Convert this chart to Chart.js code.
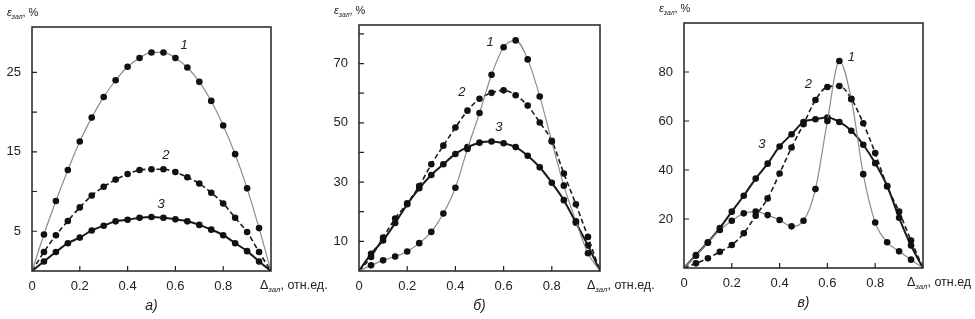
<!DOCTYPE html>
<html>
<head>
<meta charset="utf-8">
<script src="https://cdn.jsdelivr.net/npm/chart.js@4/dist/chart.umd.min.js"></script>
<style>
  body { margin: 0; background: #fff; }
  .panel { position: absolute; top: 0; width: 340px; height: 319px; }
</style>
</head>
<body>
<div class="panel" style="left:0px"><canvas id="chart-a" width="340" height="319"></canvas></div>
<div class="panel" style="left:325px"><canvas id="chart-b" width="340" height="319"></canvas></div>
<div class="panel" style="left:635px"><canvas id="chart-c" width="340" height="319"></canvas></div>
<script>
// x positions of measured points (relative units)
const xs = [0, 0.05, 0.1, 0.15, 0.2, 0.25, 0.3, 0.35, 0.4, 0.45, 0.5, 0.55, 0.6, 0.65, 0.7, 0.75, 0.8, 0.85, 0.9, 0.95, 1];

// panel a)
const aCurve1 = [0, 4.6, 8.8, 12.7, 16.3, 19.3, 21.9, 24.0, 25.7, 26.8, 27.5, 27.5, 26.8, 25.6, 23.8, 21.4, 18.3, 14.7, 10.4, 5.4, 0];
const aCurve2 = [0, 2.4, 4.5, 6.3, 8.0, 9.5, 10.6, 11.5, 12.2, 12.7, 12.8, 12.8, 12.45, 11.8, 11.0, 9.85, 8.5, 6.7, 4.9, 2.4, 0];
const aCurve3 = [0, 1.2, 2.4, 3.5, 4.2, 5.1, 5.7, 6.25, 6.45, 6.7, 6.8, 6.7, 6.5, 6.25, 5.8, 5.2, 4.5, 3.5, 2.5, 1.2, 0];

// panel б)
const bCurve1 = [0, 1.9, 3.6, 4.9, 6.6, 9.4, 13.2, 19.4, 28.1, 41.2, 53.3, 66.2, 75.5, 77.8, 71.4, 58.9, 43.7, 28.8, 16.8, 6.0, 0];
const bCurve2 = [0, 4.7, 11.3, 17.7, 22.8, 28.7, 36.0, 42.3, 48.4, 54.1, 58.1, 60.1, 60.95, 59.3, 55.8, 50.1, 43.9, 32.9, 22.5, 11.5, 0];
const bCurve3 = [0, 5.8, 10.3, 16.2, 22.5, 27.9, 32.4, 36.0, 39.5, 41.8, 43.3, 43.7, 43.1, 41.8, 38.9, 35.0, 29.8, 23.9, 16.3, 8.6, 0];

// panel в)
const cCurve1 = [0, 5.0, 10.3, 15.5, 19.3, 22.3, 23.0, 21.6, 19.6, 17.0, 19.3, 32.2, 60.0, 84.5, 68.9, 38.3, 18.6, 10.5, 6.8, 3.4, 0];
const cCurve2 = [0, 1.9, 4.0, 6.6, 9.4, 14.2, 21.3, 28.4, 38.6, 49.2, 58.7, 68.6, 73.9, 74.3, 69.1, 59.1, 46.9, 33.3, 23.0, 11.2, 0];
const cCurve3 = [0, 5.3, 10.5, 16.3, 23.0, 29.5, 36.5, 42.6, 49.6, 54.6, 59.6, 60.7, 61.4, 59.6, 56.0, 50.3, 42.8, 33.5, 20.5, 9.2, 0];

// axis ticks
const xTicks = [0, 0.2, 0.4, 0.6, 0.8];
const aYTicks = [5, 10, 15, 20, 25];
const aYLabels = [5, 15, 25];
const bYTicks = [10, 20, 30, 40, 50, 60, 70, 80];
const bYLabels = [10, 30, 50, 70];
const cYTicks = [20, 40, 60, 80];
const cYLabels = [20, 40, 60, 80];

const curveNames = ["1", "2", "3"];
const FONT = "'Liberation Sans', Arial, sans-serif";
const TEXT = "#222";

function toPoints(ys) {
    return xs.map((x, i) => ({ x: x, y: ys[i] }));
}

function pointRadius(ctx) {
    return (ctx.dataIndex === 0 || ctx.dataIndex === xs.length - 1) ? 0 : 3.3;
}

function makeDatasets(c1, c2, c3) {
    const common = {
        pointRadius: pointRadius,
        pointBackgroundColor: "#111",
        pointBorderColor: "#111",
        pointBorderWidth: 0,
        cubicInterpolationMode: "monotone",
        fill: false
    };
    return [
        Object.assign({ label: "1", data: toPoints(c1), borderColor: "#8c8c8c", borderWidth: 1.2 }, common),
        Object.assign({ label: "2", data: toPoints(c2), borderColor: "#1a1a1a", borderWidth: 1.6, borderDash: [5, 3] }, common),
        Object.assign({ label: "3", data: toPoints(c3), borderColor: "#1a1a1a", borderWidth: 2 }, common)
    ];
}

// text with a subscript: main + sub + rest
function drawSub(ctx, x, y, main, sub, rest, size, italicMain) {
    ctx.textAlign = "left";
    ctx.textBaseline = "alphabetic";
    ctx.font = (italicMain ? "italic " : "") + size + "px " + FONT;
    ctx.fillText(main, x, y);
    x += ctx.measureText(main).width;
    ctx.font = "italic " + (size * 0.62) + "px " + FONT;
    ctx.fillText(sub, x, y + 3);
    x += ctx.measureText(sub).width;
    ctx.font = size + "px " + FONT;
    ctx.fillText(rest, x, y);
}

const framePlugin = {
    id: "frame",
    afterDraw(chart, args, opts) {
        const ctx = chart.ctx;
        const area = chart.chartArea;
        const xScale = chart.scales.x;
        const yScale = chart.scales.y;
        ctx.save();
        ctx.strokeStyle = "#222";
        ctx.lineWidth = 1.5;
        ctx.strokeRect(area.left, area.top, area.right - area.left, area.bottom - area.top);

        // inward tick marks
        ctx.lineWidth = 1.2;
        ctx.beginPath();
        opts.yTicks.forEach(v => {
            const py = yScale.getPixelForValue(v);
            ctx.moveTo(area.left, py);
            ctx.lineTo(area.left + 5, py);
        });
        xTicks.forEach(v => {
            if (v === 0) return;
            const px = xScale.getPixelForValue(v);
            ctx.moveTo(px, area.bottom);
            ctx.lineTo(px, area.bottom - 5);
        });
        ctx.stroke();

        ctx.fillStyle = TEXT;
        // axis titles
        drawSub(ctx, area.left - 25, area.top - 11, "ε", "зал", ", %", 11, true);
        drawSub(ctx, area.right + opts.xTitleShift, area.bottom + 18, "Δ", "зал", opts.xTitleRest, 12.5, false);

        // curve numbers
        ctx.font = "italic 13px " + FONT;
        ctx.textAlign = "center";
        ctx.textBaseline = "middle";
        opts.curveLabels.forEach((p, i) => {
            ctx.fillText(curveNames[i], xScale.getPixelForValue(p[0]), yScale.getPixelForValue(p[1]));
        });

        // panel caption
        ctx.font = "italic 14px " + FONT;
        ctx.fillText(opts.caption, (area.left + area.right) / 2, area.bottom + 35);
        ctx.restore();
    }
};

function createChart(id, datasets, yMax, yTicks, yLabels, padding, frame) {
    const ctx = document.getElementById(id).getContext("2d");
    return new Chart(ctx, {
        type: "line",
        data: { datasets: datasets },
        options: {
            responsive: false,
            animation: false,
            devicePixelRatio: 1,
            layout: { padding: padding },
            plugins: {
                legend: { display: false },
                tooltip: { enabled: false },
                frame: Object.assign({ yTicks: yTicks }, frame)
            },
            scales: {
                x: {
                    type: "linear",
                    min: 0,
                    max: 1,
                    grid: { display: false, drawTicks: false },
                    border: { display: false },
                    afterBuildTicks: scale => { scale.ticks = xTicks.map(v => ({ value: v })); },
                    afterFit: scale => { scale.height = 25; },
                    ticks: {
                        padding: 8,
                        color: TEXT,
                        font: { family: FONT, size: 13 },
                        maxRotation: 0,
                        callback: v => String(v)
                    }
                },
                y: {
                    type: "linear",
                    min: 0,
                    max: yMax,
                    grid: { display: false, drawTicks: false },
                    border: { display: false },
                    afterBuildTicks: scale => { scale.ticks = yTicks.map(v => ({ value: v })); },
                    afterFit: scale => { scale.width = frame.yAxisWidth; },
                    ticks: {
                        padding: 11,
                        color: TEXT,
                        font: { family: FONT, size: 13 },
                        callback: v => yLabels.includes(v) ? String(v) : ""
                    }
                }
            }
        },
        plugins: [framePlugin]
    });
}

createChart("chart-a", makeDatasets(aCurve1, aCurve2, aCurve3), 30.7, aYTicks, aYLabels,
    { left: 0, top: 27, right: 69, bottom: 23 },
    { yAxisWidth: 32, caption: "а)", xTitleShift: -11, xTitleRest: ", отн.ед.",
      curveLabels: [[0.636, 28.4], [0.56, 14.6], [0.54, 8.4]] });

createChart("chart-b", makeDatasets(bCurve1, bCurve2, bCurve3), 83, bYTicks, bYLabels,
    { left: 0, top: 25, right: 65, bottom: 23 },
    { yAxisWidth: 34, caption: "б)", xTitleShift: -13, xTitleRest: ", отн.ед.",
      curveLabels: [[0.544, 77.1], [0.427, 60.2], [0.58, 48.3]] });

createChart("chart-c", makeDatasets(cCurve1, cCurve2, cCurve3), 100, cYTicks, cYLabels,
    { left: 15, top: 23, right: 52, bottom: 26 },
    { yAxisWidth: 34, caption: "в)", xTitleShift: -16, xTitleRest: ", отн.ед",
      curveLabels: [[0.70, 86], [0.52, 75], [0.326, 50.5]] });
</script>
</body>
</html>
